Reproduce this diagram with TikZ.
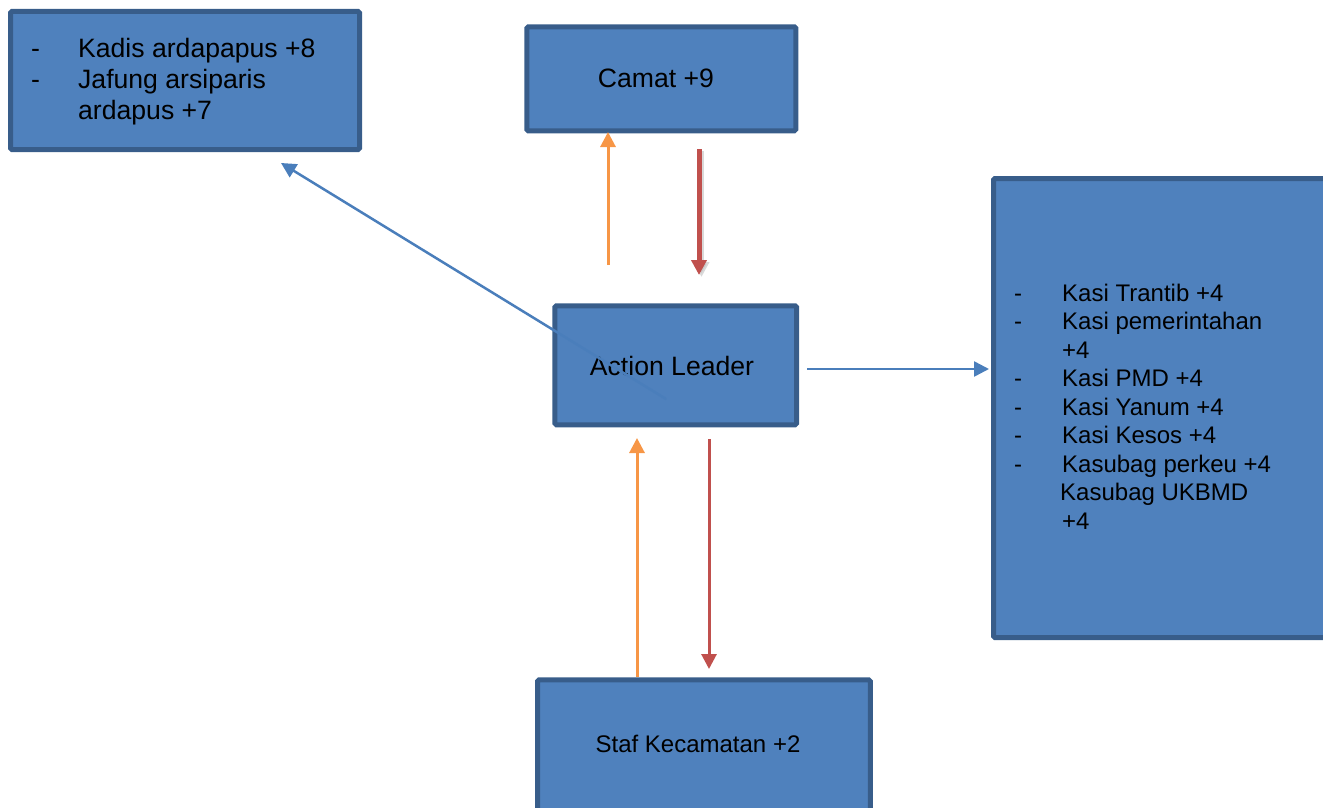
\documentclass[tikz,border=0pt]{standalone}
\usepackage{fontspec}
\setmainfont{Liberation Sans}
\usetikzlibrary{arrows.meta}
\definecolor{boxfill}{HTML}{4F81BD}
\definecolor{boxline}{HTML}{385D8A}
\definecolor{orangeln}{HTML}{F79646}
\definecolor{redln}{HTML}{C0504D}
\definecolor{blueln}{HTML}{4A7EBB}
\begin{document}
\begin{tikzpicture}[x=1pt,y=-1pt,
  box/.style={draw=boxline, fill=boxfill, line width=5pt, rounded corners=1.5pt, inner sep=0pt},
  bigtxt/.style={font=\fontsize{26.6}{30.6}\selectfont, inner sep=0pt},
  smalltxt/.style={font=\fontsize{24}{28.5}\selectfont, inner sep=0pt},
  tipped/.style={-{Triangle[length=15pt,width=15pt]}},
  orangearrow/.style={tipped, draw=orangeln, fill=orangeln, line width=3pt},
  redarrow/.style={tipped, draw=redln, fill=redln, line width=3pt},
  bluearrow/.style={tipped, draw=blueln, fill=blueln, line width=2.5pt}]
\useasboundingbox (0,0) rectangle (1323,808);

% boxes
\node[box, minimum width=349pt, minimum height=138pt] (kadis) at (185,80.5) {};
\node[box, minimum width=269pt, minimum height=104pt] (camat) at (661.3,78.8) {};
\node[box, minimum width=241.7pt, minimum height=119pt] (al) at (675.7,365.3) {};
\node[box, minimum width=339pt, minimum height=459pt] (kasi) at (1163,408) {};
\node[box, minimum width=332.7pt, minimum height=137.7pt] (staf) at (703.9,748.7) {};

% texts
\node[bigtxt, anchor=base west] (kadistxt) at (31,58)
  {\begin{tabular}[t]{@{}p{47pt}@{}l@{}}-&Kadis ardapapus +8\\-&Jafung arsiparis\\&ardapus +7\end{tabular}};
\node[bigtxt, anchor=base] (camattxt) at (656,88) {Camat +9};
\node[bigtxt, anchor=base] (altxt) at (672,375) {Action Leader};
\node[smalltxt, anchor=base] (staftxt) at (698,752) {Staf Kecamatan +2};
\node[smalltxt, anchor=base west] (kasitxt) at (1014,301)
  {\begin{tabular}[t]{@{}p{48pt}@{}l@{}}-&Kasi Trantib +4\\-&Kasi pemerintahan\\&+4\\-&Kasi PMD +4\\-&Kasi Yanum +4\\-&Kasi Kesos +4\\-&Kasubag perkeu +4\\&\hspace{-2pt}Kasubag UKBMD\\&+4\end{tabular}};

% connector end points
\coordinate (o1s) at (608,265);
\coordinate (o1e) at (608,132);
\coordinate (r1s) at (699,149);
\coordinate (r1e) at (699,275);
\coordinate (r1ss) at (701.5,151);
\coordinate (r1se) at (701.5,277);
\coordinate (b1s) at (666,399);
\coordinate (b1e) at (281,163);
\coordinate (b2s) at (807,369);
\coordinate (b2e) at (989,369);
\coordinate (o2s) at (637,677);
\coordinate (o2e) at (637,438);
\coordinate (r2s) at (709,439);
\coordinate (r2e) at (709,669);

% connectors
\draw[orangearrow] (o1s) -- (o1e);
\draw[tipped, draw=black!25, fill=black!25, line width=5pt, opacity=0.6] (r1ss) -- (r1se);
\draw[redarrow, line width=5pt] (r1s) -- (r1e);
\draw[bluearrow] (b1s) -- (b1e);
\draw[bluearrow] (b2s) -- (b2e);
\draw[orangearrow] (o2s) -- (o2e);
\draw[redarrow] (r2s) -- (r2e);
\end{tikzpicture}
\end{document}
